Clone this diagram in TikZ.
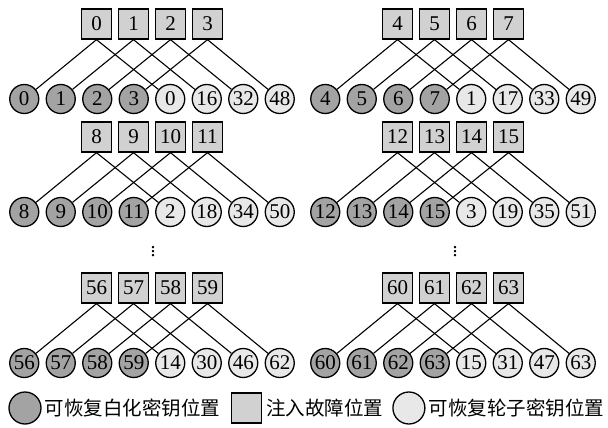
\documentclass[tikz,border=0pt]{standalone}
\usepackage{fontspec}
\setmainfont{Liberation Serif}
\newfontfamily\cjk{Noto Sans CJK SC}
\usepackage{tikz}
\usetikzlibrary{positioning}
\definecolor{whitekey}{gray}{0.64}
\definecolor{faultbox}{gray}{0.82}
\definecolor{roundkey}{gray}{0.91}

\begin{document}
\begin{tikzpicture}[x=1pt, y=-1pt, font=\fontsize{21}{21}\selectfont,
    fault/.style={draw, line width=1.3pt, fill=faultbox, minimum size=30pt, inner sep=0pt},
    keyw/.style={draw, circle, line width=1.3pt, fill=whitekey, minimum size=29pt, inner sep=0pt},
    keyr/.style={keyw, fill=roundkey},
    wire/.style={line width=1.1pt},
    legtext/.style={inner sep=0pt, font=\cjk\fontsize{19.5}{19.5}\selectfont}]
    \useasboundingbox (0,0) rectangle (608,428);
    % one group per fault position: x, y, first fault byte, round key byte
    \foreach \cx/\cy/\b/\k [count=\g] in {152/24/0/0, 453/24/4/1, 152/137/8/2,
                                          453/137/12/3, 152/288/56/14, 453/288/60/15} {
        % injected faults
        \foreach \j in {0,...,3} {
            \pgfmathtruncatemacro{\lab}{\b+\j}
            \node [fault] (sq-\g-\j) at ({\cx+(\j-1.5)*37}, {\cy}) {\lab};
        }
        % whitening key bytes
        \foreach \j in {0,...,3} {
            \pgfmathtruncatemacro{\lab}{\b+\j}
            \node [keyw] (kc-\g-\j) at ({\cx+(\j-3.5)*36.5}, {\cy+75}) {\lab};
        }
        % round key bytes
        \foreach \j in {0,...,3} {
            \pgfmathtruncatemacro{\lab}{\k+16*\j}
            \pgfmathtruncatemacro{\n}{\j+4}
            \node [keyr] (kc-\g-\n) at ({\cx+(\j+0.5)*36.5}, {\cy+75}) {\lab};
        }
        \foreach \j in {0,...,3} {
            \pgfmathtruncatemacro{\n}{\j+4}
            \draw [wire] (sq-\g-\j.south) -- (kc-\g-\j);
            \draw [wire] (sq-\g-\j.south) -- (kc-\g-\n);
        }
    }

    % omitted rows
    \node [font=\fontsize{20}{20}\selectfont] (dots-l) at (153,249) {$\vdots$};
    \node [font=\fontsize{20}{20}\selectfont] (dots-r) at (455,249) {$\vdots$};

    % legend
    \node [keyw, minimum size=32pt] (lg-w) at (25,408) {};
    \node [legtext, right=3pt of lg-w] (lg-wt) {可恢复白化密钥位置};
    \node [fault, right=10pt of lg-wt] (lg-f) {};
    \node [legtext, right=4pt of lg-f] (lg-ft) {注入故障位置};
    \node [keyr, minimum size=32pt, right=9pt of lg-ft] (lg-r) {};
    \node [legtext, right=3pt of lg-r] (lg-rt) {可恢复轮子密钥位置};
\end{tikzpicture}
\end{document}
